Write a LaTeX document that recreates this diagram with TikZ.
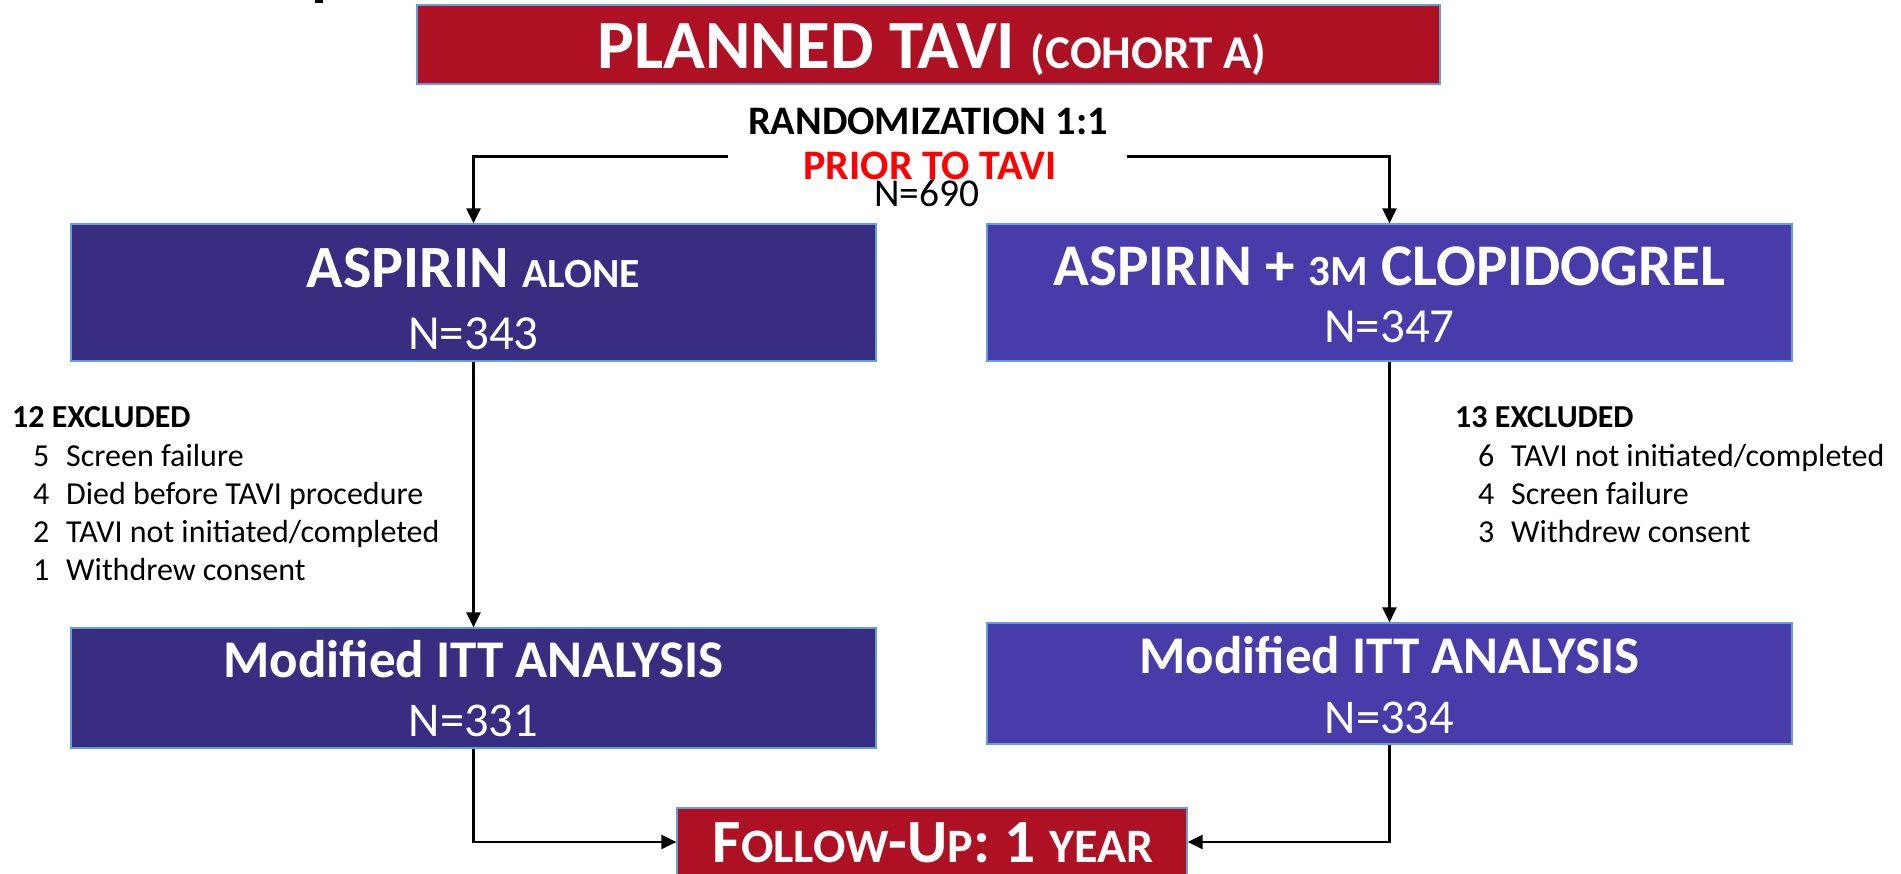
\documentclass[tikz,border=0pt]{standalone}
\usepackage{fontspec}
\setmainfont{Carlito}
\usepackage{tikz}
\usetikzlibrary{arrows.meta,positioning}

\definecolor{tavired}{RGB}{174,17,35}
\definecolor{armdark}{RGB}{56,45,128}
\definecolor{armlight}{RGB}{72,59,170}
\definecolor{boxline}{RGB}{100,160,215}
\definecolor{priorred}{RGB}{255,0,0}

\newcommand{\px}[1]{\fontsize{#1}{#1}\selectfont}

\begin{document}
\begin{tikzpicture}[x=1pt, y=-1pt,
    box/.style={draw=boxline, line width=1.2pt, inner sep=0pt, minimum width=805pt},
    txt/.style={inner sep=0pt, anchor=base, text=white},
    note/.style={inner sep=0pt, anchor=base west, text=black},
    conn/.style={line width=2.5pt, -{Triangle[length=15pt,width=14pt]}}]
    \useasboundingbox (0,0) rectangle (1901,874);
    \fill (315,0) rectangle (323,3.5);

    % cohort and randomization
    \node[box, fill=tavired, minimum width=1023pt, minimum height=79pt] (planned) at (928.5,44.5) {};
    \node[txt] (plannedT) at (932,69) {\px{69}\bfseries PLANNED TAVI {\px{47}(COHORT A)}};
    \node[txt, text=black] (rando) at (928,134.5) {\px{40.5}\bfseries RANDOMIZATION 1:1};
    \node[txt, text=priorred] (prior) at (930,180) {\px{42}\bfseries PRIOR TO TAVI};
    \node[txt, text=black] (total) at (927,206.5) {\px{39.5}N=690};
    \coordinate (splitL) at (728,156.5);
    \coordinate (splitR) at (1127,156.5);

    % the two arms
    \node[box, fill=armdark, minimum height=137pt] (aspirin) at (473.5,292.5) {};
    \node[txt] (aspirinT) at (473.5,287.5) {\px{60}\bfseries ASPIRIN {\px{41.5}ALONE}};
    \node[txt] (aspirinN) at (473.5,350) {\px{49}N=343};
    \node[box, fill=armlight, minimum height=137pt] (clopi) at (1389.5,292.5) {};
    \node[txt] (clopiT) at (1389.5,285.5) {\px{59}\bfseries ASPIRIN + {\px{43}3M} CLOPIDOGREL};
    \node[txt] (clopiN) at (1389.5,343) {\px{49}N=347};

    % analysis sets
    \node[box, fill=armdark, minimum height=120pt] (ittA) at (473.5,688) {};
    \node[txt] (ittAT) at (473.5,677) {\px{53}\bfseries Modified ITT ANALYSIS};
    \node[txt] (ittAN) at (473.5,736) {\px{48.5}N=331};
    \node[box, fill=armlight, minimum height=121pt] (ittB) at (1389.5,683.5) {};
    \node[txt] (ittBT) at (1389.5,673) {\px{53}\bfseries Modified ITT ANALYSIS};
    \node[txt] (ittBN) at (1389.5,733) {\px{48.5}N=334};

    \node[box, fill=tavired, minimum width=510pt, minimum height=68pt] (follow) at (932,842) {};
    \node[txt] (followT) at (933,862) {\px{61.5}\bfseries F{\px{48}OLLOW}-U{\px{48}P}: 1 {\px{48}YEAR}};

    % exclusions
    \node[note] (exclA) at (12,428) {\px{32}\bfseries 12 EXCLUDED};
    \foreach \n/\why [count=\i] in {5/Screen failure, 4/Died before TAVI procedure,
        2/{TAVI not initiated/completed}, 1/Withdrew consent} {
      \node[note] (exclAn\i) at (33,428+38*\i) {\px{32}\n};
      \node[note] (exclAw\i) at (66,428+38*\i) {\px{32}\why};
    }
    \node[note] (exclB) at (1455,428) {\px{32}\bfseries 13 EXCLUDED};
    \foreach \n/\why [count=\i] in {6/{TAVI not initiated/completed}, 4/Screen failure,
        3/Withdrew consent} {
      \node[note] (exclBn\i) at (1478,428+38*\i) {\px{32}\n};
      \node[note] (exclBw\i) at (1511,428+38*\i) {\px{32}\why};
    }

    % connectors
    \draw[conn] (splitL) -| (aspirin.north);
    \draw[conn] (splitR) -| (clopi.north);
    \draw[conn] (aspirin.south) -- (ittA.north);
    \draw[conn] (clopi.south) -- (ittB.north);
    \draw[conn] (ittA.south) |- (follow.west);
    \draw[conn] (ittB.south) |- (follow.east);
\end{tikzpicture}
\end{document}
